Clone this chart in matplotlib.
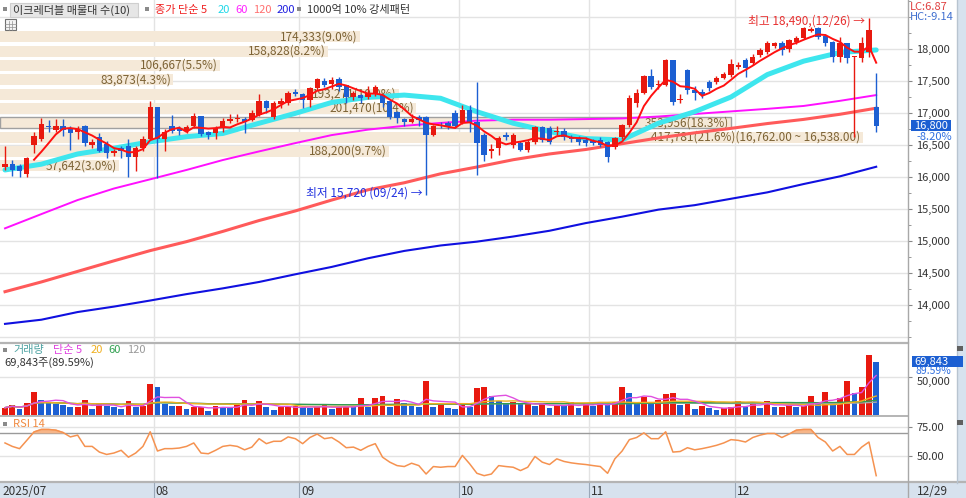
import numpy as np
import pandas as pd
import matplotlib
matplotlib.use("Agg")
import matplotlib.pyplot as plt
from matplotlib.patches import Rectangle
from matplotlib.lines import Line2D
from matplotlib.ticker import FuncFormatter, MultipleLocator

plt.rcParams['font.family'] = ['Noto Sans CJK KR', 'DejaVu Sans']
plt.rcParams['axes.unicode_minus'] = False

# ---- daily candles 2025-07-03 .. 2025-12-29 ----
opens = [16160, 16210, 16170, 16050, 16500, 16590, 16800, 16740, 16790, 16770,
         16700, 16800, 16500, 16630, 16520, 16380, 16450, 16480, 16320, 16450,
         16600, 17100, 16600, 16790, 16760, 16720, 16790, 16950, 16700, 16680,
         16760, 16880, 16900, 16900, 16890, 16970, 17190, 16940, 17140, 17150,
         17330, 17290, 17210, 17390, 17500, 17460, 17530, 17440, 17250, 17280,
         17250, 17310, 17280, 17190, 17020, 16900, 16860, 16940, 16940, 16660,
         16820, 16850, 17000, 16850, 17050, 16860, 16660, 16410, 16450, 16660,
         16500, 16530, 16420, 16550, 16780, 16770, 16700, 16720, 16620, 16600,
         16580, 16560, 16580, 16550, 16470, 16630, 16810, 17160, 17310, 17580,
         17440, 17440, 17830, 17200, 17670, 17360, 17330, 17480, 17480, 17550,
         17590, 17720, 17830, 17780, 17910, 17950, 18050, 18090, 18000, 18110,
         18170, 18280, 18330, 18200, 18110, 17870, 18090, 17870, 17860, 17950,
         17090]
closes = [16210, 16110, 16100, 16290, 16640, 16830, 16780, 16790, 16740, 16680,
          16750, 16530, 16540, 16410, 16380, 16400, 16410, 16320, 16450, 16600,
          17100, 16600, 16710, 16720, 16720, 16780, 16950, 16670, 16660, 16760,
          16880, 16900, 16920, 16860, 17000, 17190, 17080, 17160, 17190, 17320,
          17300, 17200, 17390, 17530, 17440, 17510, 17410, 17255, 17310, 17230,
          17310, 17410, 17160, 16940, 16920, 16860, 16900, 16890, 16660, 16800,
          16790, 16790, 16790, 17050, 16850, 16530, 16340, 16440, 16610, 16630,
          16660, 16420, 16550, 16780, 16580, 16550, 16720, 16620, 16600, 16550,
          16530, 16530, 16500, 16310, 16610, 16810, 17230, 17310, 17580, 17410,
          17460, 17830, 17170, 17220, 17360, 17310, 17280, 17390, 17550, 17610,
          17760, 17750, 17700, 17880, 17990, 18090, 18090, 17990, 18140, 18170,
          18330, 18310, 18190, 18090, 17870, 18090, 17860, 17880, 18090, 18300,
          16800]
highs = [16480, 16260, 16200, 16320, 16700, 16920, 16890, 16900, 16900, 16790,
         16800, 16820, 16600, 16680, 16560, 16440, 16480, 16600, 16480, 16640,
         17190, 17100, 16750, 16970, 16800, 16820, 17000, 16950, 16720, 16800,
         16920, 16980, 16980, 16940, 17050, 17300, 17210, 17190, 17230, 17340,
         17380, 17310, 17400, 17540, 17540, 17560, 17560, 17440, 17340, 17300,
         17420, 17430, 17300, 17210, 17030, 16920, 16990, 16970, 16950, 16820,
         16860, 16870, 17040, 17130, 17130, 17490, 16680, 16520, 16640, 16700,
         16680, 16560, 16580, 16800, 16790, 16800, 16800, 16760, 16660, 16640,
         16620, 16600, 16620, 16560, 16630, 16830, 17280, 17380, 17600, 17680,
         17520, 17850, 17830, 17290, 17680, 17420, 17380, 17520, 17580, 17640,
         17850, 17800, 17860, 17920, 18010, 18120, 18110, 18120, 18160, 18200,
         18340, 18350, 18340, 18230, 18130, 18180, 18100, 17890, 18180, 18490,
         17620]
lows = [16110, 16020, 16000, 16000, 16380, 16560, 16700, 16700, 16640, 16420,
        16600, 16480, 16450, 16390, 16300, 16330, 16300, 16000, 16100, 16400,
        16580, 15980, 16400, 16680, 16650, 16690, 16770, 16640, 16600, 16600,
        16700, 16850, 16860, 16680, 16870, 16960, 17000, 16900, 17080, 17120,
        17260, 17080, 17100, 17360, 17400, 17380, 17350, 17150, 17200, 17150,
        17220, 17260, 17100, 16900, 16850, 16800, 16840, 16800, 15720, 16640,
        16760, 16750, 16760, 16830, 16700, 16030, 16250, 16300, 16350, 16580,
        16460, 16400, 16390, 16520, 16550, 16510, 16660, 16580, 16550, 16500,
        16490, 16500, 16470, 16240, 16430, 16600, 16780, 17100, 17290, 17380,
        17380, 17420, 17130, 17150, 17300, 17200, 17240, 17340, 17450, 17530,
        17560, 17690, 17560, 17750, 17880, 17920, 18020, 17900, 17960, 18080,
        18150, 18260, 18150, 18050, 17800, 17800, 17780, 16620, 17800, 17870,
        16700]
volumes = [9600, 13100, 8300, 16100, 30500, 19600, 16100, 14400, 13100, 10900,
           10900, 19600, 8300, 14400, 11700, 10900, 8300, 18700, 10900, 11700,
           40000, 37000, 14400, 11700, 11700, 7400, 10900, 10900, 5700, 11700,
           10900, 10000, 13100, 19600, 10000, 18300, 10000, 6500, 10900, 10900,
           11700, 10000, 8700, 10900, 13100, 8300, 10000, 10900, 10000, 21800,
           10000, 21800, 24800, 10900, 20400, 16100, 11700, 10000, 44400, 10000,
           13100, 8700, 7800, 13100, 10900, 34800, 36500, 24800, 18300, 14400,
           17400, 14000, 14500, 11700, 14400, 9600, 13100, 12600, 17400, 9600,
           14400, 11700, 17400, 13100, 17400, 36100, 29100, 17400, 23900, 14400,
           19600, 27000, 28300, 13100, 14400, 7800, 11700, 9600, 6500, 8700,
           10000, 18700, 10900, 16100, 9600, 18300, 10900, 10900, 13100, 10900,
           11700, 24800, 15200, 29600, 15200, 21800, 44400, 28300, 37000, 78300,
           69843]
rsi = [61.4, 58.5, 56.6, 63.6, 70.7, 72.8, 72.8, 72.2, 70.2, 66.5,
       68.0, 58.5, 58.5, 53.7, 51.7, 52.9, 55.2, 49.4, 52.9, 58.5,
       70.7, 54.6, 56.6, 56.6, 57.1, 58.5, 61.4, 52.9, 52.3, 55.2,
       58.5, 59.4, 58.5, 55.6, 57.9, 65.0, 60.8, 62.8, 62.8, 66.5,
       65.0, 60.8, 66.0, 68.9, 65.0, 66.0, 62.2, 57.4, 57.9, 55.2,
       58.5, 60.8, 49.4, 45.2, 42.3, 41.5, 44.3, 42.3, 35.2, 41.5,
       40.9, 41.5, 41.5, 50.9, 43.8, 35.8, 33.8, 35.2, 42.3, 41.5,
       40.9, 38.1, 40.9, 50.0, 45.2, 43.2, 48.0, 45.8, 44.6, 43.8,
       43.2, 42.3, 41.5, 35.8, 48.0, 54.6, 64.2, 66.0, 69.9, 65.0,
       65.0, 70.7, 53.7, 54.2, 57.4, 55.6, 56.6, 57.9, 59.4, 61.4,
       64.2, 63.6, 62.2, 66.0, 68.0, 69.4, 69.4, 66.0, 68.9, 72.2,
       72.8, 72.8, 66.0, 62.2, 54.6, 58.5, 51.7, 51.7, 57.9, 62.2,
       33.8]

# moving averages, every 5th session
ma_idx = list(range(0, 121, 5))
ma20 = [16110, 16200, 16360, 16450, 16550, 16630, 16680, 16840, 16995, 17165,
        17245, 17280, 17230, 17020, 16840, 16710, 16600, 16580, 16840, 17020,
        17250, 17600, 17810, 17945, 17985]
ma60 = [15198, 15420, 15640, 15820, 15964, 16110, 16265, 16400, 16530, 16655,
        16740, 16800, 16845, 16880, 16895, 16895, 16905, 16915, 16945, 16985,
        17025, 17065, 17110, 17190, 17280]
ma120 = [14208, 14360, 14525, 14690, 14850, 14990, 15150, 15320, 15470, 15640,
         15800, 15910, 16050, 16156, 16270, 16360, 16430, 16520, 16610, 16690,
         16760, 16835, 16900, 16980, 17075]
ma200 = [13705, 13770, 13890, 13975, 14070, 14170, 14260, 14360, 14480, 14595,
         14730, 14845, 14930, 14990, 15070, 15160, 15280, 15380, 15490, 15560,
         15660, 15760, 15890, 16010, 16160]

# volume profile (매물대), bottom band first
band_lo = [16090, 16314, 16538, 16762, 16986, 17210, 17434, 17658, 17882, 18106]
band_size = 224
band_vol = [57642, 188200, 417781, 353956, 201470, 193271, 83873, 106667, 158828, 174333]

month_start = [21, 41, 63, 81, 101]
month_names = ["08", "09", "10", "11", "12"]
last_price = 16800

W, H = 966, 498
fig = plt.figure(figsize=(W / 100, H / 100), dpi=100)
fig.patch.set_facecolor("white")


def px_axes(top, bottom, left=0, right=908):
    a = fig.add_axes([left / W, 1 - bottom / H, (right - left) / W, (bottom - top) / H])
    for s in a.spines.values():
        s.set_visible(False)
    a.set_xticks([])
    return a


def ftext(x, y, s, **kw):
    kw.setdefault("fontsize", 8)
    kw.setdefault("va", "center")
    return fig.text(x / W, 1 - y / H, s, **kw)


def frect(x, y, w, h, **kw):
    fig.patches.append(Rectangle((x / W, 1 - (y + h) / H), w / W, h / H,
                                 transform=fig.transFigure, **kw))


def fline(x0, y0, x1, y1, **kw):
    fig.lines.append(Line2D([x0 / W, x1 / W], [1 - y0 / H, 1 - y1 / H],
                            transform=fig.transFigure, **kw))


RED = "#e8190f"
BLUE = "#1c5fd2"
n = len(closes)
idx = np.arange(n)
xlim = (-0.69, 124.38)

# right strip and date strip
frect(957, 0, 9, 483, facecolor="#d7e2ee", edgecolor="none", zorder=0)
frect(0, 483, W, 15, facecolor="#d7e2ee", edgecolor="none", zorder=0)

# ---------------- price panel ----------------
ax = px_axes(0, 341)
ax.set_xlim(*xlim)
ax.set_ylim(13437.5, 18765.6)
for lv in range(13500, 18501, 500):
    ax.axhline(lv, color="#e3e3e3", lw=1, zorder=0)
for m in month_start:
    ax.axvline(m - 0.5, color="#e3e3e3", lw=1, zorder=0)

vmax = max(band_vol)
vtot = sum(band_vol)
span = (xlim[1] - xlim[0]) * 0.95
for lo, v in zip(band_lo, band_vol):
    wdt = v / vmax * span
    cur = lo <= last_price < lo + band_size
    ax.barh(lo, wdt, height=band_size * 0.77, left=xlim[0], align="edge",
            color="#f5e9d8", edgecolor="#a0a0a0" if cur else "none",
            lw=1, zorder=1)
    lab = f"{v:,}({v / vtot * 100:.1f}%)"
    if v == vmax:
        lab += f"({lo + band_size:,.2f} ~ {lo:,.2f})"
    ax.text(xlim[0] + wdt - 0.3, lo + band_size * 0.39, lab, ha="right", va="center",
            fontsize=8.5, color="#7d6335", zorder=1.5)

ax.plot(ma_idx, ma200, color="#1010e0", lw=1.5, zorder=2)
ax.plot(ma_idx, ma120, color="#ff5a5a", lw=2.2, zorder=2)
ax.plot(ma_idx, ma60, color="#ff10ff", lw=1.4, zorder=2)
ax.plot(ma_idx, ma20, color="#3ee6ee", lw=3.6, zorder=3, solid_capstyle="round")

o = np.array(opens)
c = np.array(closes)
up = c >= o
ccol = np.where(up, RED, BLUE)
ax.vlines(idx, lows, highs, colors=ccol, lw=1, zorder=4)
ax.bar(idx, np.maximum(np.abs(c - o), 14), bottom=np.minimum(o, c), width=0.74,
       color=ccol, zorder=4)

ma5 = pd.Series(closes).rolling(5).mean()
ax.plot(idx, ma5, color="#ff1010", lw=1.4, zorder=5)

ax.text(118.4, 18440, "최고 18,490,(12/26) →", ha="right", va="center",
        fontsize=8.5, color="#e83030", zorder=6)
ax.text(57.5, 15755, "최저 15,720 (09/24) →", ha="right", va="center",
        fontsize=8.5, color="#2030e0", zorder=6)

ax.yaxis.tick_right()
ax.set_yticks(range(14000, 18001, 500))
ax.yaxis.set_minor_locator(MultipleLocator(250))
ax.yaxis.set_major_formatter(FuncFormatter(lambda v, p: f"{v:,.0f}"))
ax.tick_params(axis="y", which="both", direction="out", length=3, pad=3,
               labelsize=8, colors="#888888", labelcolor="#333333")
ax.tick_params(axis="y", which="minor", length=2)

# ---------------- volume panel ----------------
axv = px_axes(344, 415)
axv.set_xlim(*xlim)
axv.set_ylim(0, 92700)
axv.axhline(50000, color="#e3e3e3", lw=1, zorder=0)
for m in month_start:
    axv.axvline(m - 0.5, color="#e3e3e3", lw=1, zorder=0)
vol = pd.Series(volumes)
vcol = [RED if i == 0 or volumes[i] >= volumes[i - 1] else BLUE for i in range(n)]
axv.bar(idx, volumes, width=0.8, color=vcol, zorder=2)
axv.plot(idx, vol.rolling(120, min_periods=1).mean(), color="#a8a8a8", lw=1, zorder=3)
axv.plot(idx, vol.rolling(60, min_periods=1).mean(), color="#2f9e4f", lw=1, zorder=3)
axv.plot(idx, vol.rolling(20, min_periods=1).mean(), color="#f0b020", lw=1, zorder=3)
axv.plot(idx, vol.rolling(5, min_periods=1).mean(), color="#e050e0", lw=1, zorder=3)
axv.yaxis.tick_right()
axv.set_yticks([50000])
axv.yaxis.set_major_formatter(FuncFormatter(lambda v, p: f"{v:,.0f}"))
axv.tick_params(axis="y", direction="out", length=3, pad=3, labelsize=8,
                colors="#888888", labelcolor="#333333")
for t in axv.get_yticklabels():
    t.set_va("top")

# ---------------- RSI panel ----------------
axr = px_axes(417, 481)
axr.set_xlim(*xlim)
axr.set_ylim(29.3, 83.3)
for lv in (75, 50):
    axr.axhline(lv, color="#e3e3e3", lw=1, zorder=0)
axr.axhline(70, color="#9a9a9a", lw=1, zorder=1)
for m in month_start:
    axr.axvline(m - 0.5, color="#e3e3e3", lw=1, zorder=0)
r = np.array(rsi)
axr.fill_between(idx, 70, r, where=r > 70, interpolate=True, color="#f6b588", zorder=2)
axr.plot(idx, r, color="#f59250", lw=1.1, zorder=3)
axr.yaxis.tick_right()
axr.set_yticks([50, 75])
axr.yaxis.set_major_formatter(FuncFormatter(lambda v, p: f"{v:.2f}"))
axr.tick_params(axis="y", direction="out", length=3, pad=3, labelsize=8,
                colors="#888888", labelcolor="#333333")

# ---------------- frame lines ----------------
fline(0, 342.5, 908, 342.5, color="#b4b4b4", lw=1.6)
fline(0, 416, 908, 416, color="#b4b4b4", lw=1.4)
fline(0, 482, 966, 482, color="#b4b4b4", lw=1.6)
fline(908, 0, 908, 498, color="#a8a8a8", lw=1)
fline(957, 0, 957, 483, color="#b8c4d0", lw=1)

# ---------------- legends / labels ----------------
frect(3, 7.5, 4, 4, facecolor="#8a8a8a", edgecolor="none")
frect(10, 3, 128, 14, facecolor="#e6e6e6", edgecolor="#cfcfcf", lw=0.8)
ftext(13, 10, "이크레더블 매물대 수(10)", color="#333333")
frect(145, 7.5, 4, 4, facecolor="#8a8a8a", edgecolor="none")
ftext(155, 10, "종가 단순 5", color="#f02020")
ftext(218, 10, "20", color="#20d8e8")
ftext(235, 10, "60", color="#ff20ff")
ftext(253, 10, "120", color="#ff7070")
ftext(277, 10, "200", color="#2020e0")
frect(297, 7.5, 4, 4, facecolor="#8a8a8a", edgecolor="none")
ftext(307, 10, "1000억 10% 강세패턴", color="#333333")

# small table icon
frect(5, 19, 11, 11, facecolor="#f4f4f4", edgecolor="#707070", lw=0.8)
for k in (1, 2):
    fline(5, 19 + k * 11 / 3 + 1, 16, 19 + k * 11 / 3 + 1, color="#909090", lw=0.5)
    fline(5 + k * 11 / 3, 21, 5 + k * 11 / 3, 30, color="#909090", lw=0.5)

ftext(910, 6.5, "LC:6.87", color="#e04040")
ftext(910, 17.5, "HC:-9.14", color="#4070d0")
frect(911, 120, 40, 11, facecolor=BLUE, edgecolor="none", zorder=5)
ftext(914, 125.5, f"{last_price:,}", color="white", zorder=6)
ftext(916, 136.5, "-8.20%", color="#3070e0", zorder=6)

frect(3, 348, 4, 4, facecolor="#8a8a8a", edgecolor="none")
ftext(13, 350, "거래량", color="#4fa3a3")
ftext(53, 350, "단순 5", color="#e040e0")
ftext(91, 350, "20", color="#f0b020")
ftext(108, 350, "60", color="#30a050")
ftext(127, 350, "120", color="#999999")
ftext(4, 363, f"{volumes[-1]:,}주(89.59%)", color="#333333")
frect(912, 356, 51, 11, facecolor=BLUE, edgecolor="none", zorder=5)
ftext(914, 361.5, f"{volumes[-1]:,}", color="white", zorder=6)
ftext(916, 370.5, "89.59%", color="#3070e0", zorder=6, fontsize=7.5)
frect(957, 346, 6, 5, facecolor="#606060", edgecolor="none", zorder=6)

frect(3, 422, 4, 4, facecolor="#8a8a8a", edgecolor="none")
ftext(13, 424, "RSI 14", color="#f08a40")
frect(957, 420, 6, 5, facecolor="#606060", edgecolor="none", zorder=6)

# date axis
ftext(2, 491, "2025/07", fontsize=8.5, color="#333333")
for m, name in zip(month_start, month_names):
    xp = 5 + 7.26 * (m - 0.5)
    fline(xp, 483, xp, 498, color="#9aa8b8", lw=0.8)
    ftext(xp + 2, 491, name, fontsize=8.5, color="#333333")
ftext(917, 491, "12/29", fontsize=8.5, color="#333333")

fig.savefig("out.png", dpi=100)
